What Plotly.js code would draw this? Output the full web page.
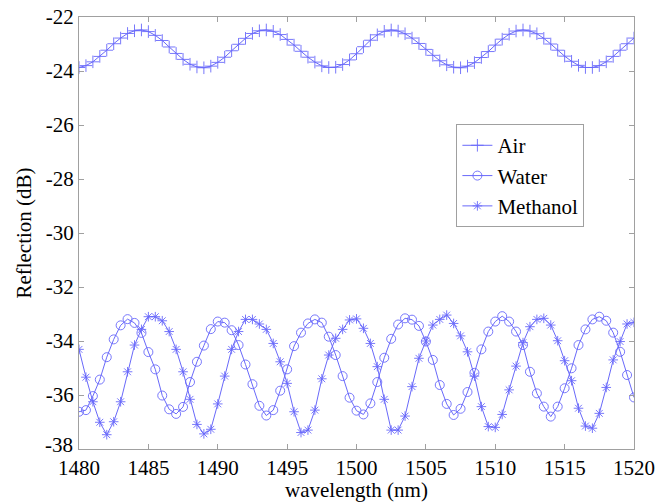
<!DOCTYPE html>
<html>
<head>
<meta charset="utf-8">
<script src="https://cdn.plot.ly/plotly-3.0.1.min.js"></script>
</head>
<body style="margin:0;background:#fff">
<div style="position:absolute;left:0;top:0;font-family:'Liberation Serif';font-size:21px;color:#fff;z-index:-1">Reflection wavelength Air Water Methanol 1485 -38</div>
<div id="chart"></div>
<script>
const wavelength = [1480,1480.5,1481,1481.5,1482,1482.5,1483,1483.5,1484,1484.5,1485,1485.5,1486,1486.5,1487,1487.5,1488,1488.5,1489,1489.5,1490,1490.5,1491,1491.5,1492,1492.5,1493,1493.5,1494,1494.5,1495,1495.5,1496,1496.5,1497,1497.5,1498,1498.5,1499,1499.5,1500,1500.5,1501,1501.5,1502,1502.5,1503,1503.5,1504,1504.5,1505,1505.5,1506,1506.5,1507,1507.5,1508,1508.5,1509,1509.5,1510,1510.5,1511,1511.5,1512,1512.5,1513,1513.5,1514,1514.5,1515,1515.5,1516,1516.5,1517,1517.5,1518,1518.5,1519,1519.5,1520];

const air = [-23.87,-23.80,-23.66,-23.46,-23.23,-22.99,-22.78,-22.61,-22.51,-22.48,-22.54,-22.68,-22.87,-23.11,-23.35,-23.57,-23.75,-23.85,-23.88,-23.82,-23.68,-23.49,-23.25,-23.01,-22.79,-22.61,-22.51,-22.48,-22.53,-22.65,-22.83,-23.04,-23.27,-23.49,-23.67,-23.81,-23.87,-23.86,-23.76,-23.59,-23.36,-23.10,-22.86,-22.66,-22.53,-22.48,-22.52,-22.62,-22.78,-22.98,-23.20,-23.42,-23.62,-23.77,-23.86,-23.88,-23.82,-23.69,-23.50,-23.28,-23.04,-22.82,-22.64,-22.52,-22.48,-22.52,-22.62,-22.79,-23.00,-23.23,-23.45,-23.64,-23.79,-23.87,-23.87,-23.80,-23.66,-23.46,-23.23,-22.99,-22.78];

const water = [-36.62,-36.56,-36.04,-35.43,-34.60,-33.94,-33.42,-33.19,-33.33,-33.70,-34.41,-35.05,-36.02,-36.53,-36.70,-36.44,-35.52,-34.77,-34.17,-33.56,-33.28,-33.32,-33.60,-34.15,-34.87,-35.60,-36.40,-36.76,-36.56,-35.84,-35.05,-34.19,-33.69,-33.35,-33.20,-33.32,-33.84,-34.52,-35.30,-36.10,-36.58,-36.72,-36.31,-35.52,-34.62,-33.92,-33.39,-33.16,-33.21,-33.44,-34.02,-34.70,-35.63,-36.33,-36.74,-36.51,-35.89,-35.18,-34.31,-33.65,-33.28,-33.08,-33.28,-33.65,-34.15,-35.14,-35.94,-36.43,-36.80,-36.43,-35.75,-35.01,-34.15,-33.57,-33.20,-33.10,-33.25,-33.69,-34.40,-35.26,-36.09];

const methanol = [-34.31,-35.34,-36.25,-37.01,-37.47,-36.99,-36.25,-35.14,-34.15,-33.57,-33.10,-33.10,-33.25,-33.65,-34.31,-35.14,-36.16,-37.09,-37.44,-37.27,-36.33,-35.30,-34.31,-33.65,-33.20,-33.20,-33.37,-33.57,-34.09,-34.77,-35.57,-36.62,-37.39,-37.30,-36.56,-35.40,-34.52,-33.90,-33.57,-33.22,-33.18,-33.53,-34.09,-34.95,-36.16,-37.30,-37.30,-36.78,-35.69,-34.64,-34.00,-33.41,-33.20,-33.04,-33.35,-33.81,-34.40,-35.30,-36.43,-37.17,-37.20,-36.72,-35.81,-34.93,-34.06,-33.47,-33.20,-33.16,-33.41,-33.99,-34.73,-35.47,-36.49,-37.15,-37.23,-36.68,-35.72,-34.70,-34.02,-33.37,-33.31];

const seriesNames = ['Air','Water','Methanol'];
const xTicks = [1480,1485,1490,1495,1500,1505,1510,1515,1520];
const yTicks = [-38,-36,-34,-32,-30,-28,-26,-24,-22];

const blue = 'rgb(105,105,250)';

function trace(y, name, symbol, size) {
  return {
    x: wavelength, y: y, name: name, type: 'scatter', mode: 'lines+markers',
    line: {color: blue, width: 1},
    marker: {symbol: symbol, size: size, color: blue, line: {color: blue, width: 0.9}}
  };
}

const data = [
  trace(air, seriesNames[0], 'cross-thin-open', 9),
  trace(water, seriesNames[1], 'circle-open', 9),
  trace(methanol, seriesNames[2], 'asterisk-open', 8)
];

const yTickText = yTicks.map(v => v === yTicks[0] ? '' : String(v));

const layout = {
  width: 658, height: 502,
  margin: {l: 79, r: 24, t: 17, b: 53},
  font: {family: 'Liberation Serif', size: 21, color: '#000'},
  xaxis: {
    range: [1480, 1520], tickvals: xTicks, ticktext: xTicks.map(String),
    showgrid: false, zeroline: false, showline: true, mirror: 'ticks',
    linecolor: '#a0a0a0', ticks: 'inside', ticklen: 5, tickcolor: '#a0a0a0',
    tickfont: {family: 'Liberation Serif', size: 21},
    title: {text: 'wavelength (nm)', font: {family: 'Liberation Serif', size: 21}, standoff: 0}
  },
  yaxis: {
    range: [-38, -22], tickvals: yTicks, ticktext: yTickText,
    showgrid: false, zeroline: false, showline: true, mirror: 'ticks',
    linecolor: '#a0a0a0', ticks: 'inside', ticklen: 5, tickcolor: '#a0a0a0',
    tickfont: {family: 'Liberation Serif', size: 21},
    title: {text: 'Reflection (dB)', font: {family: 'Liberation Serif', size: 21}, standoff: 8}
  },
  annotations: [{
    xref: 'paper', yref: 'y', x: 0, y: yTicks[0], xanchor: 'right', yanchor: 'middle',
    xshift: -4, yshift: 4, showarrow: false, text: String(yTicks[0]),
    font: {family: 'Liberation Serif', size: 21}
  }],
  showlegend: true,
  legend: {
    x: 0.68, y: 0.752, xanchor: 'left', yanchor: 'top',
    bgcolor: '#fff', bordercolor: '#a0a0a0', borderwidth: 1,
    font: {family: 'Liberation Serif', size: 21}
  }
};

const cfg = {displayModeBar: false};
Plotly.newPlot('chart', data, layout, cfg);
if (document.fonts && document.fonts.load) {
  document.fonts.load('21px "Liberation Serif"').then(function () {
    Plotly.react('chart', data, layout, cfg);
  });
}
</script>
</body>
</html>
